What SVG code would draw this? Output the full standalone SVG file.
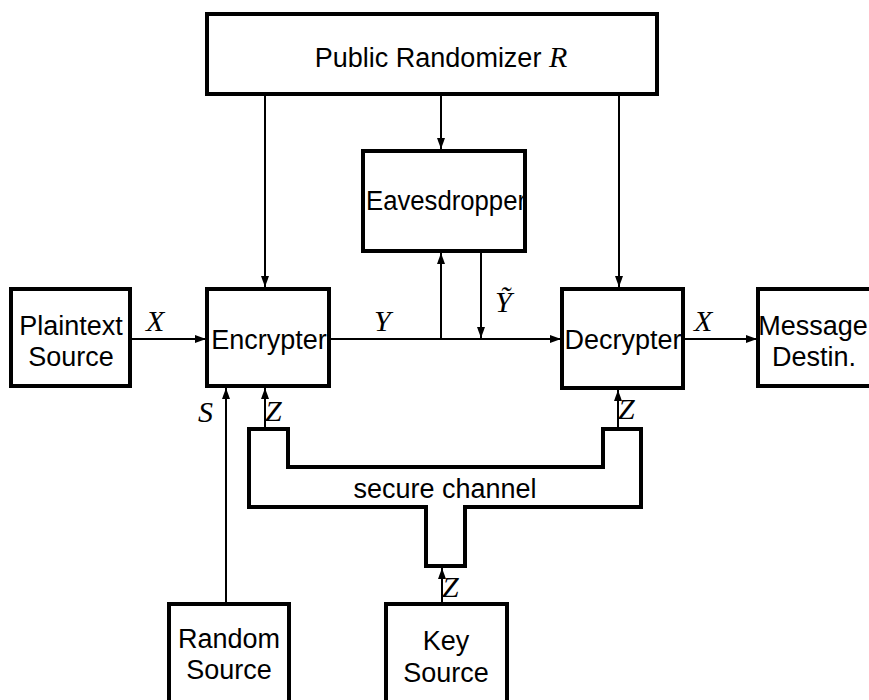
<svg xmlns="http://www.w3.org/2000/svg" width="869" height="700" viewBox="0 0 869 700">
  <defs>
    <marker id="arrow" markerUnits="userSpaceOnUse" markerWidth="11" markerHeight="8" refX="11" refY="4" orient="auto">
      <path d="M0,0 L11,4 L0,8 z" fill="#000"/>
    </marker>
  </defs>
  <style>
    .box { fill: #fff; stroke: #000; stroke-width: 4; }
    .wire { fill: none; stroke: #000; stroke-width: 2; marker-end: url(#arrow); }
    .chan { fill: none; stroke: #000; stroke-width: 4; stroke-linejoin: miter; }
    .lbl { font-family: "Liberation Sans", Arial, sans-serif; font-size: 27px; text-anchor: middle; fill: #000; }
    .var { font-family: "Liberation Serif", "Times New Roman", serif; font-style: italic; font-size: 30px; fill: #000; }
  </style>
  <rect width="869" height="700" fill="#fff"/>

  <g id="connectors">
    <!-- randomizer outputs -->
    <line class="wire" x1="265" y1="94" x2="265" y2="287"/>
    <line class="wire" x1="441" y1="94" x2="441" y2="149"/>
    <line class="wire" x1="619" y1="94" x2="619" y2="287"/>
    <!-- main path -->
    <line class="wire" x1="130" y1="339" x2="206" y2="339"/>
    <line class="wire" x1="329" y1="339" x2="561" y2="339"/>
    <line class="wire" x1="683" y1="339" x2="757" y2="339"/>
    <!-- eavesdropper taps -->
    <line class="wire" x1="441" y1="339" x2="441" y2="253"/>
    <line class="wire" x1="481" y1="251" x2="481" y2="338"/>
    <!-- private randomness and key -->
    <line class="wire" x1="226" y1="604" x2="226" y2="388"/>
    <line class="wire" x1="265" y1="429" x2="265" y2="388"/>
    <line class="wire" x1="618" y1="429" x2="618" y2="390"/>
    <line class="wire" x1="442" y1="603" x2="442" y2="568"/>
    <!-- secure channel pipe -->
    <path class="chan" d="M249,429 H288 V467 H603 V429 H641 V507 H465 V566 H426 V507 H249 Z"/>
    <text class="lbl" x="445" y="498" font-size="25.5">secure channel</text>
    <!-- signal labels -->
    <text class="var" x="146" y="331">X</text>
    <text class="var" x="374" y="331">Y</text>
    <text class="var" x="495" y="312">Ỹ</text>
    <text class="var" x="694" y="331">X</text>
    <text class="var" x="198" y="422">S</text>
    <text class="var" x="265" y="421">Z</text>
    <text class="var" x="618" y="419">Z</text>
    <text class="var" x="442" y="597">Z</text>
  </g>

  <g id="randomizer">
    <rect class="box" x="207" y="14" width="450" height="80"/>
    <text class="lbl" x="441" y="67">Public Randomizer <tspan class="var">R</tspan></text>
  </g>
  <g id="eavesdropper">
    <rect class="box" x="363" y="151" width="162" height="100"/>
    <text class="lbl" x="446" y="210" textLength="160" lengthAdjust="spacingAndGlyphs">Eavesdropper</text>
  </g>
  <g id="plaintext">
    <rect class="box" x="11" y="289" width="119" height="97"/>
    <text class="lbl" x="71" y="335">Plaintext</text>
    <text class="lbl" x="71" y="366">Source</text>
  </g>
  <g id="encrypter">
    <rect class="box" x="207" y="289" width="122" height="97"/>
    <text class="lbl" x="269" y="349">Encrypter</text>
  </g>
  <g id="decrypter">
    <rect class="box" x="562" y="289" width="121" height="99"/>
    <text class="lbl" x="623" y="349">Decrypter</text>
  </g>
  <g id="destination">
    <rect class="box" x="758" y="289" width="122" height="97"/>
    <text class="lbl" x="813" y="335" font-size="24.5">Message</text>
    <text class="lbl" x="814" y="366">Destin.</text>
  </g>
  <g id="random-source">
    <rect class="box" x="169" y="604" width="120" height="100"/>
    <text class="lbl" x="229" y="648">Random</text>
    <text class="lbl" x="229" y="679">Source</text>
  </g>
  <g id="key-source">
    <rect class="box" x="386" y="604" width="121" height="100"/>
    <text class="lbl" x="446" y="650">Key</text>
    <text class="lbl" x="446" y="682">Source</text>
  </g>
</svg>
